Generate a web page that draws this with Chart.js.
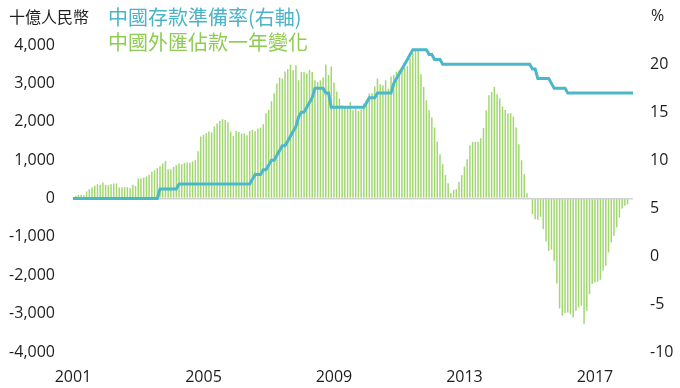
<!DOCTYPE html>
<html>
<head>
<meta charset="utf-8">
<script src="https://cdn.jsdelivr.net/npm/chart.js@4.4.1/dist/chart.umd.min.js"></script>
<style>
  html, body { margin: 0; padding: 0; background: #ffffff; }
  #wrap { position: relative; width: 680px; height: 388px; overflow: hidden; }
  #wrap canvas { position: absolute; left: 0; top: 0; }
  .txt { position: absolute; white-space: nowrap; font-family: "Noto Sans CJK TC", "Noto Sans", sans-serif; }
</style>
</head>
<body>
<div id="wrap">
  <canvas id="c" width="680" height="388"></canvas>
  <div class="txt" style="left:9px; top:6px; font-size:16px; line-height:20px; color:#1e1e1e;">十億人民幣</div>
  <div class="txt" style="left:108px; top:4px; font-size:20px; line-height:26px; color:#4bb4c8;">中國存款準備率(右軸)</div>
  <div class="txt" style="left:108px; top:29px; font-size:20px; line-height:26px; color:#8ecd52;">中國外匯佔款一年變化</div>
  <div class="txt" style="left:651px; top:5px; font-size:16px; line-height:20px; color:#1e1e1e; font-family:'Open Sans', sans-serif;">%</div>
</div>
<script>
// ---- data ----
const startYear = 2001;          // monthly categories, Jan 2001 .. Mar 2018
const monthCount = 207;
const yearTickLabels = ['2001', '2005', '2009', '2013', '2017'];

// 中國外匯佔款一年變化 (十億人民幣), monthly
const fxChange = [
  40,
  70, 95, 95, 87, 182, 243, 286, 330, 373, 356, 417, 356, 347, 373, 390, 390, 286, 295, 295, 295,
  269, 356, 330, 521, 530, 547, 573, 616, 694, 738, 790, 842, 911, 972,
  764, 764, 825, 868, 911, 894, 929, 937, 929, 963, 998, 1232, 1614, 1658, 1701, 1745, 1719, 1875,
  1953, 2022, 2066, 2048, 1988, 1745, 1632, 1762, 1736, 1693, 1693, 1649, 1762, 1788, 1753, 1823,
  1849, 1936, 2222, 2309,
  2535, 2743, 2995, 3151, 3125, 3307, 3368, 3489, 3342, 3472, 3081, 3298, 3298, 3255, 3350, 3298,
  3081, 3038, 3081, 3151, 3489, 3220, 3437, 3021, 2786, 2604, 2431, 2413, 2387, 2517, 2300, 2344,
  2283, 2326, 2474, 2561, 2734, 2743,
  2917, 3125, 2977, 2951, 3081, 2864, 3177, 3220, 3307, 3350, 3429, 3411, 3455, 3654, 3784, 3863,
  3889, 3238, 2908, 2561, 2300, 2109, 1849, 1484, 1154, 894, 616, 399, 139, 226, 243, 434, 608, 833, 1024,
  1389, 1476, 1476, 1476, 1571, 1840, 2300, 2691, 2778, 2908, 2717, 2613, 2396, 2309, 2222, 2222,
  2135, 1849, 1415, 998, 634, 139, 26,
  -408, -538, -556, -477, -799, -1120, -1363, -1337, -1623, -2213, -2864, -3055, -2986, -2969,
  -3012, -3099, -2925, -2838, -2795, -3272, -2925, -2491, -2231, -2187, -2170, -2118, -1884, -1753,
  -1406, -1146, -972, -755, -495, -260, -191, -148,
  null, null
];

// 中國存款準備率 (%), monthly
const reserveRatio = [
  6,6,6,6,6,6,6,6,6,6,6,6,                                  // 2001
  6,6,6,6,6,6,6,6,6,6,6,6,                                  // 2002
  6,6,6,6,6,6,6,6,7,7,7,7,                                  // 2003
  7,7,7,7.5,7.5,7.5,7.5,7.5,7.5,7.5,7.5,7.5,                // 2004
  7.5,7.5,7.5,7.5,7.5,7.5,7.5,7.5,7.5,7.5,7.5,7.5,          // 2005
  7.5,7.5,7.5,7.5,7.5,7.5,8,8.5,8.5,8.5,9,9,                // 2006
  9.5,10,10,10.5,11,11.5,11.5,12,12.5,13,13.5,14.5,         // 2007
  15,15,15.5,16,16.5,17.5,17.5,17.5,17.5,17,17,15.5,        // 2008
  15.5,15.5,15.5,15.5,15.5,15.5,15.5,15.5,15.5,15.5,15.5,15.5, // 2009
  16,16.5,16.5,16.5,17,17,17,17,17,17,18,18.5,              // 2010
  19,19.5,20,20.5,21,21.5,21.5,21.5,21.5,21.5,21.5,21,      // 2011
  21,20.5,20.5,20.5,20,20,20,20,20,20,20,20,                // 2012
  20,20,20,20,20,20,20,20,20,20,20,20,                      // 2013
  20,20,20,20,20,20,20,20,20,20,20,20,                      // 2014
  20,19.5,19.5,18.5,18.5,18.5,18.5,18.5,18,17.5,17.5,17.5,  // 2015
  17.5,17.5,17,17,17,17,17,17,17,17,17,17,                  // 2016
  17,17,17,17,17,17,17,17,17,17,17,17,                      // 2017
  17,17,17                                                  // 2018
];

const leftTicks = { min: -4000, max: 4000, step: 1000 };
const rightTicks = { min: -10, max: 22, step: 5 };

// ---- categories ----
const months = [];
for (let i = 0; i < monthCount; i++) {
  const y = startYear + Math.floor(i / 12);
  const m = (i % 12) + 1;
  months.push(y + '-' + (m < 10 ? '0' + m : m));
}

const tickFont = { family: "'Open Sans', 'Noto Sans', sans-serif", size: 16 };

new Chart(document.getElementById('c'), {
  data: {
    labels: months,
    datasets: [
      {
        type: 'line',
        label: '中國存款準備率(右軸)',
        data: reserveRatio,
        yAxisID: 'y1',
        borderColor: '#4bb8c9',
        borderWidth: 3,
        pointRadius: 0,
        tension: 0,
        order: 0
      },
      {
        type: 'bar',
        label: '中國外匯佔款一年變化',
        data: fxChange,
        yAxisID: 'y',
        backgroundColor: '#a2d770',
        barPercentage: 0.55,
        categoryPercentage: 1.0,
        order: 1
      }
    ]
  },
  options: {
    responsive: false,
    animation: false,
    devicePixelRatio: 1,
    layout: { padding: { top: 45, left: 0, right: 0, bottom: 0 } },
    plugins: { legend: { display: false }, tooltip: { enabled: false } },
    scales: {
      x: {
        type: 'category',
        offset: false,
        grid: { display: false },
        border: { display: false },
        ticks: {
          autoSkip: false,
          maxRotation: 0,
          minRotation: 0,
          padding: 8,
          color: '#1e1e1e',
          font: tickFont,
          callback: function (value) {
            const lab = this.getLabelForValue(value);
            const yr = lab.slice(0, 4);
            return (lab.slice(5) === '01' && yearTickLabels.includes(yr)) ? yr : '';
          }
        },
        afterFit: (s) => { s.height = 36; }
      },
      y: {
        position: 'left',
        min: leftTicks.min,
        max: leftTicks.max,
        border: { display: false },
        grid: {
          drawTicks: false,
          lineWidth: 1.5,
          color: (ctx) => (ctx.tick && ctx.tick.value === 0) ? '#d2d2d2' : 'rgba(0,0,0,0)'
        },
        ticks: {
          stepSize: leftTicks.step,
          padding: 18,
          color: '#1e1e1e',
          font: tickFont,
          callback: (v) => v.toLocaleString('en-US')
        },
        afterFit: (s) => { s.width = 73; }
      },
      y1: {
        position: 'right',
        min: rightTicks.min,
        max: rightTicks.max,
        border: { display: false },
        grid: { display: false, drawTicks: false },
        ticks: {
          stepSize: rightTicks.step,
          padding: 17,
          color: '#1e1e1e',
          font: tickFont
        },
        afterBuildTicks: (s) => { s.ticks = s.ticks.filter(t => t.value % rightTicks.step === 0); },
        afterFit: (s) => { s.width = 47; }
      }
    }
  }
});
</script>
</body>
</html>
